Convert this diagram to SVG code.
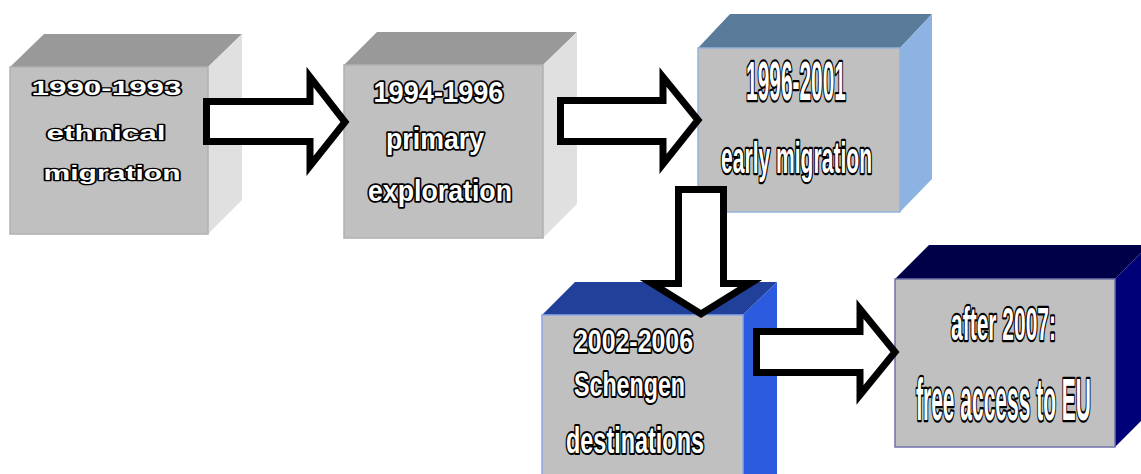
<svg xmlns="http://www.w3.org/2000/svg" width="1141" height="474" viewBox="0 0 1141 474">
<style>
.front{fill:#c0c0c0;stroke-width:1.5}
.lbl{font-family:"Liberation Sans",Arial,sans-serif;font-weight:bold;fill:#ffffff;stroke:#000000;stroke-width:3.5;paint-order:stroke;stroke-linejoin:round;text-anchor:middle;vector-effect:non-scaling-stroke}
.arrow{fill:#ffffff;stroke:#000000;stroke-width:7;stroke-linejoin:miter;stroke-miterlimit:10}
</style>
<rect width="1141" height="474" fill="#ffffff"/>
<g id="node1">
<polygon points="10,67 44,34 242,34 208,67" fill="#999999"/>
<polygon points="208,67 242,34 242,200 208,234" fill="#e0e0e0"/>
<rect class="front" x="10" y="67" width="198" height="167" stroke="#b0b0b0"/>
<text class="lbl" transform="translate(106.5,95) scale(1,0.66)" font-size="31.5" textLength="150" lengthAdjust="spacingAndGlyphs">1990-1993</text>
<text class="lbl" transform="translate(106,139.5) scale(1,0.66)" font-size="31.5" textLength="119" lengthAdjust="spacingAndGlyphs">ethnical</text>
<text class="lbl" transform="translate(112,180) scale(1,0.66)" font-size="31.5" textLength="137" lengthAdjust="spacingAndGlyphs">migration</text>
</g>
<g id="node2">
<polygon points="344,65 377,32 577,32 543,65" fill="#999999"/>
<polygon points="543,65 577,32 577,204 543,238" fill="#e0e0e0"/>
<rect class="front" x="344" y="65" width="199" height="173" stroke="#b0b0b0"/>
<text class="lbl" transform="translate(438.5,101.5) scale(1,1.05)" font-size="27.5" textLength="130" lengthAdjust="spacingAndGlyphs">1994-1996</text>
<text class="lbl" transform="translate(435,149) scale(1,1.05)" font-size="27.5" textLength="98" lengthAdjust="spacingAndGlyphs">primary</text>
<text class="lbl" transform="translate(440,201) scale(1,1.05)" font-size="27.5" textLength="144" lengthAdjust="spacingAndGlyphs">exploration</text>
</g>
<g id="node3">
<polygon points="698,48 730,14 932,14 900,48" fill="#5b7b9a"/>
<polygon points="900,48 932,14 932,179 900,212" fill="#8db3e2"/>
<rect class="front" x="698" y="48" width="202" height="164" stroke="#95b3d7"/>
<text class="lbl" transform="translate(796,100) scale(1,2.62)" font-size="21" textLength="100" lengthAdjust="spacingAndGlyphs">1996-2001</text>
<text class="lbl" transform="translate(796.5,173) scale(1,2.1)" font-size="21" textLength="151" lengthAdjust="spacingAndGlyphs">early migration</text>
</g>
<g id="node4">
<polygon points="542,315 575,282 777,282 743,315" fill="#21409a"/>
<polygon points="743,315 777,282 777,474 743,474" fill="#2d5be0"/>
<rect class="front" x="542" y="315" width="201" height="165" stroke="#8aa6e6"/>
<text class="lbl" transform="translate(633.5,351.5) scale(1,1.28)" font-size="25" textLength="119" lengthAdjust="spacingAndGlyphs">2002-2006</text>
<text class="lbl" transform="translate(629.5,396) scale(1,1.4)" font-size="23.3" textLength="111" lengthAdjust="spacingAndGlyphs">Schengen</text>
<text class="lbl" transform="translate(635,452.5) scale(1,1.58)" font-size="23.4" textLength="138" lengthAdjust="spacingAndGlyphs">destinations</text>
</g>
<g id="node5">
<polygon points="895,279 929,245 1149,245 1115,279" fill="#000048"/>
<polygon points="1115,279 1149,245 1149,413 1115,447" fill="#000078"/>
<rect class="front" x="895" y="279" width="220" height="168" stroke="#7070a8"/>
<text class="lbl" transform="translate(1003.5,340) scale(1,2.2)" font-size="21" textLength="105" lengthAdjust="spacingAndGlyphs">after 2007:</text>
<text class="lbl" transform="translate(1003.5,419.5) scale(1,2.8)" font-size="21" textLength="175" lengthAdjust="spacingAndGlyphs">free access to EU</text>
</g>
<g id="connectors">
<path class="arrow" d="M206.5,101.5 H310 V77 L345,122 L310,166 V141.5 H206.5 Z"/>
<path class="arrow" d="M560.5,100.5 H663 V77 L698,120 L663,164 V141.5 H560.5 Z"/>
<path class="arrow" d="M678.5,189.5 H723.5 V283.5 H750 L701,314 L652,283.5 H678.5 Z"/>
<path class="arrow" d="M756.5,331.5 H860 V309 L895,352 L860,395 V372.5 H756.5 Z"/>
</g>
</svg>
